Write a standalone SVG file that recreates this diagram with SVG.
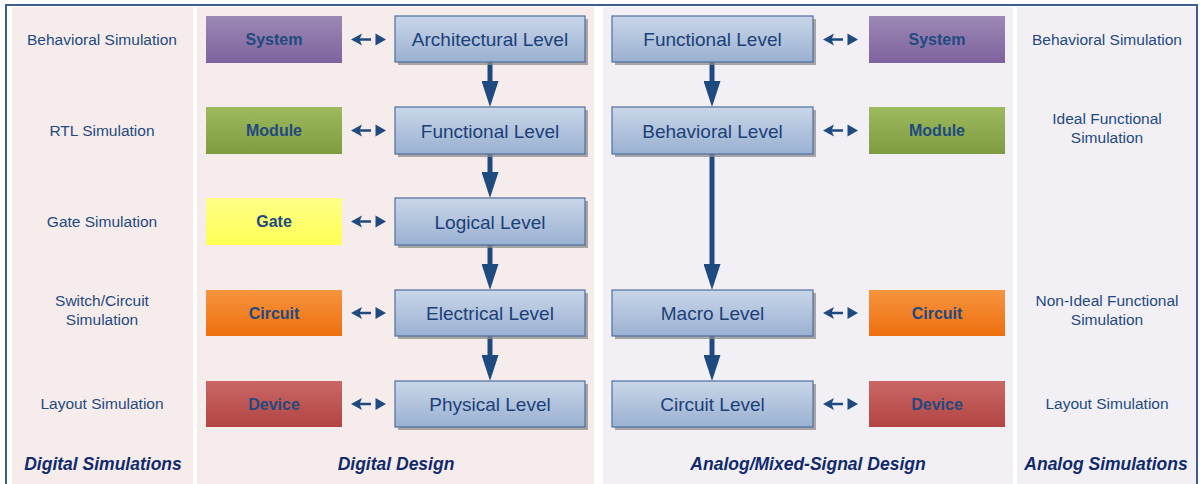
<svg xmlns="http://www.w3.org/2000/svg" width="1200" height="484" viewBox="0 0 1200 484">
  <style>
    .lvl-box { fill: url(#gLevel); stroke: #4f6f9e; stroke-width: 1.2; }
    .lvl-shadow { fill: #8c8c8c; opacity: 0.75; }
    .lvl-text { font-family: "Liberation Sans", Arial, sans-serif; font-size: 19px; fill: #1c3f78; text-anchor: middle; }
    .tag-text { font-family: "Liberation Sans", Arial, sans-serif; font-size: 16px; font-weight: bold; fill: #1f4a80; text-anchor: middle; }
    .sim-text { font-family: "Liberation Sans", Arial, sans-serif; font-size: 15.5px; fill: #1f4a80; text-anchor: middle; }
    .title { font-family: "Liberation Sans", Arial, sans-serif; font-size: 17.5px; font-weight: bold; font-style: italic; fill: #102a6c; text-anchor: middle; }
    .flow { stroke: #1f4a80; stroke-width: 5; fill: none; marker-end: url(#head); }
    .link-line { stroke: #1f4a80; stroke-width: 2.5; }
    .link-head { fill: #1f4a80; }
  </style>
  <defs>
    <linearGradient id="gLevel" x1="0" y1="0" x2="0" y2="1">
      <stop offset="0" stop-color="#c9d6e8"/>
      <stop offset="1" stop-color="#9ab1d2"/>
    </linearGradient>
    <linearGradient id="gSystem" x1="0" y1="0" x2="0" y2="1">
      <stop offset="0" stop-color="#9c89b5"/>
      <stop offset="1" stop-color="#7e629e"/>
    </linearGradient>
    <linearGradient id="gModule" x1="0" y1="0" x2="0" y2="1">
      <stop offset="0" stop-color="#9dba5e"/>
      <stop offset="1" stop-color="#7e9b40"/>
    </linearGradient>
    <linearGradient id="gGate" x1="0" y1="0" x2="0" y2="1">
      <stop offset="0" stop-color="#ffff88"/>
      <stop offset="1" stop-color="#ffff55"/>
    </linearGradient>
    <linearGradient id="gCircuit" x1="0" y1="0" x2="0" y2="1">
      <stop offset="0" stop-color="#f7943e"/>
      <stop offset="1" stop-color="#ee6f0e"/>
    </linearGradient>
    <linearGradient id="gDevice" x1="0" y1="0" x2="0" y2="1">
      <stop offset="0" stop-color="#c96766"/>
      <stop offset="1" stop-color="#b24542"/>
    </linearGradient>
    <marker id="head" viewBox="0 0 26 17" refX="2" refY="8.5" markerWidth="26" markerHeight="17" markerUnits="userSpaceOnUse" orient="auto">
      <path d="M0,0 L26,8.5 L0,17 z" fill="#1f4a80"/>
    </marker>
    <!-- two-way link glyph: left arrow, short shaft, right triangle -->
    <g id="link">
      <polygon class="link-head" points="351,0 362,-6 359.5,0 362,6"/>
      <line class="link-line" x1="358" y1="0" x2="371" y2="0"/>
      <polygon class="link-head" points="375.5,-6 386,0 375.5,6"/>
    </g>
  </defs>

  <!-- background and column panels -->
  <rect x="0" y="0" width="1200" height="484" fill="#ffffff"/>
  <g id="panels">
    <rect x="12" y="7" width="181" height="477" fill="#f7ecec"/>
    <rect x="197" y="7" width="397" height="477" fill="#f7ecec"/>
    <rect x="603" y="7" width="410" height="477" fill="#f2f0f5"/>
    <rect x="1017" y="7" width="179" height="477" fill="#f2f0f5"/>
  </g>
  <rect x="6" y="5" width="1191" height="490" fill="none" stroke="#3d5e8e" stroke-width="2"/>

  <!-- connectors -->
  <g id="connectors">
    <line class="flow" x1="490" y1="62" x2="490" y2="83"/>
    <line class="flow" x1="490" y1="154" x2="490" y2="174"/>
    <line class="flow" x1="490" y1="245" x2="490" y2="266"/>
    <line class="flow" x1="490" y1="336" x2="490" y2="357"/>
    <line class="flow" x1="712" y1="62" x2="712" y2="83"/>
    <line class="flow" x1="712" y1="154" x2="712" y2="266"/>
    <line class="flow" x1="712" y1="336" x2="712" y2="357"/>

    <g id="links-digital">
      <use href="#link" transform="translate(0,39.5)"/>
      <use href="#link" transform="translate(0,130.5)"/>
      <use href="#link" transform="translate(0,221.5)"/>
      <use href="#link" transform="translate(0,313)"/>
      <use href="#link" transform="translate(0,404)"/>
    </g>
    <g id="links-analog">
      <use href="#link" transform="translate(472,39.5)"/>
      <use href="#link" transform="translate(472,130.5)"/>
      <use href="#link" transform="translate(472,313)"/>
      <use href="#link" transform="translate(472,404)"/>
    </g>
  </g>

  <!-- digital design levels -->
  <g id="d-architectural">
    <rect class="lvl-shadow" x="398" y="19" width="190" height="46"/>
    <rect class="lvl-box" x="395" y="16" width="190" height="46"/>
    <text class="lvl-text" x="490" y="46">Architectural Level</text>
  </g>
  <g id="d-functional">
    <rect class="lvl-shadow" x="398" y="110" width="190" height="47"/>
    <rect class="lvl-box" x="395" y="107" width="190" height="47"/>
    <text class="lvl-text" x="490" y="137.5">Functional Level</text>
  </g>
  <g id="d-logical">
    <rect class="lvl-shadow" x="398" y="201" width="190" height="47"/>
    <rect class="lvl-box" x="395" y="198" width="190" height="47"/>
    <text class="lvl-text" x="490" y="228.5">Logical Level</text>
  </g>
  <g id="d-electrical">
    <rect class="lvl-shadow" x="398" y="293" width="190" height="46"/>
    <rect class="lvl-box" x="395" y="290" width="190" height="46"/>
    <text class="lvl-text" x="490" y="320">Electrical Level</text>
  </g>
  <g id="d-physical">
    <rect class="lvl-shadow" x="398" y="384" width="190" height="46"/>
    <rect class="lvl-box" x="395" y="381" width="190" height="46"/>
    <text class="lvl-text" x="490" y="411">Physical Level</text>
  </g>

  <!-- analog / mixed-signal design levels -->
  <g id="a-functional">
    <rect class="lvl-shadow" x="615" y="19" width="201" height="46"/>
    <rect class="lvl-box" x="612" y="16" width="201" height="46"/>
    <text class="lvl-text" x="712.5" y="46">Functional Level</text>
  </g>
  <g id="a-behavioral">
    <rect class="lvl-shadow" x="615" y="110" width="201" height="47"/>
    <rect class="lvl-box" x="612" y="107" width="201" height="47"/>
    <text class="lvl-text" x="712.5" y="137.5">Behavioral Level</text>
  </g>
  <g id="a-macro">
    <rect class="lvl-shadow" x="615" y="293" width="201" height="46"/>
    <rect class="lvl-box" x="612" y="290" width="201" height="46"/>
    <text class="lvl-text" x="712.5" y="320">Macro Level</text>
  </g>
  <g id="a-circuit">
    <rect class="lvl-shadow" x="615" y="384" width="201" height="46"/>
    <rect class="lvl-box" x="612" y="381" width="201" height="46"/>
    <text class="lvl-text" x="712.5" y="411">Circuit Level</text>
  </g>

  <!-- abstraction tags, digital side -->
  <g id="d-system">
    <rect x="206" y="16" width="136" height="47" fill="url(#gSystem)"/>
    <text class="tag-text" x="274" y="45">System</text>
  </g>
  <g id="d-module">
    <rect x="206" y="107" width="136" height="47" fill="url(#gModule)"/>
    <text class="tag-text" x="274" y="136">Module</text>
  </g>
  <g id="d-gate">
    <rect x="206" y="198" width="136" height="47" fill="url(#gGate)"/>
    <text class="tag-text" x="274" y="227">Gate</text>
  </g>
  <g id="d-circuit">
    <rect x="206" y="290" width="136" height="46" fill="url(#gCircuit)"/>
    <text class="tag-text" x="274" y="318.5">Circuit</text>
  </g>
  <g id="d-device">
    <rect x="206" y="381" width="136" height="46" fill="url(#gDevice)"/>
    <text class="tag-text" x="274" y="409.5">Device</text>
  </g>

  <!-- abstraction tags, analog side -->
  <g id="a-system">
    <rect x="869" y="16" width="136" height="47" fill="url(#gSystem)"/>
    <text class="tag-text" x="937" y="45">System</text>
  </g>
  <g id="a-module">
    <rect x="869" y="107" width="136" height="47" fill="url(#gModule)"/>
    <text class="tag-text" x="937" y="136">Module</text>
  </g>
  <g id="a-circuit-tag">
    <rect x="869" y="290" width="136" height="46" fill="url(#gCircuit)"/>
    <text class="tag-text" x="937" y="318.5">Circuit</text>
  </g>
  <g id="a-device">
    <rect x="869" y="381" width="136" height="46" fill="url(#gDevice)"/>
    <text class="tag-text" x="937" y="409.5">Device</text>
  </g>

  <!-- simulation kinds, digital -->
  <g id="sim-digital">
    <text class="sim-text" x="102" y="44.5">Behavioral Simulation</text>
    <text class="sim-text" x="102" y="135.5">RTL Simulation</text>
    <text class="sim-text" x="102" y="226.5">Gate Simulation</text>
    <text class="sim-text" x="102" y="306">Switch/Circuit</text>
    <text class="sim-text" x="102" y="325">Simulation</text>
    <text class="sim-text" x="102" y="409">Layout Simulation</text>
  </g>

  <!-- simulation kinds, analog -->
  <g id="sim-analog">
    <text class="sim-text" x="1107" y="44.5">Behavioral Simulation</text>
    <text class="sim-text" x="1107" y="123.5">Ideal Functional</text>
    <text class="sim-text" x="1107" y="142.5">Simulation</text>
    <text class="sim-text" x="1107" y="306">Non-Ideal Functional</text>
    <text class="sim-text" x="1107" y="325">Simulation</text>
    <text class="sim-text" x="1107" y="409">Layout Simulation</text>
  </g>

  <!-- column titles -->
  <g id="titles">
    <text class="title" x="103" y="470">Digital Simulations</text>
    <text class="title" x="396" y="470">Digital Design</text>
    <text class="title" x="808" y="470">Analog/Mixed-Signal Design</text>
    <text class="title" x="1106" y="470">Analog Simulations</text>
  </g>
</svg>
